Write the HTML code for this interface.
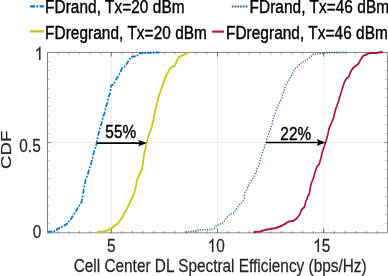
<!DOCTYPE html>
<html><head><meta charset="utf-8"><title>CDF</title>
<style>html,body{margin:0;padding:0;background:#fff;}body{width:388px;height:276px;overflow:hidden;}svg{display:block;will-change:transform;}text{font-family:"Liberation Sans",sans-serif;font-size:18.6px;fill:#000;stroke:#000;stroke-width:0.42px;}text.ax{fill:#262626;stroke:#262626;stroke-width:0.25px;}</style>
</head><body>
<svg width="388" height="276" viewBox="0 0 388 276">
<rect width="388" height="276" fill="#fff"/>
<g transform="scale(0.827,1)">
<g stroke="#e6e6e6" stroke-width="0.9" fill="none"><line x1="134.52" y1="52.50" x2="134.52" y2="232.60"/><line x1="263.00" y1="52.50" x2="263.00" y2="232.60"/><line x1="391.48" y1="52.50" x2="391.48" y2="232.60"/><line x1="57.44" y1="142.55" x2="468.56" y2="142.55"/></g>
<line x1="57.07" y1="232.70" x2="468.92" y2="232.70" stroke="#b2b2b2" stroke-width="1.35"/>
<line x1="57.07" y1="52.45" x2="468.92" y2="52.45" stroke="#404040" stroke-width="0.72"/>
<line x1="57.44" y1="52.50" x2="57.44" y2="232.60" stroke="#404040" stroke-width="0.73"/>
<line x1="468.56" y1="52.50" x2="468.56" y2="232.60" stroke="#404040" stroke-width="0.63"/>
<line x1="70.28" y1="232.90" x2="70.28" y2="231.10" stroke="#4a4a4a" stroke-width="0.73"/><line x1="70.28" y1="52.50" x2="70.28" y2="54.60" stroke="#4a4a4a" stroke-width="0.46"/><line x1="83.13" y1="232.90" x2="83.13" y2="231.10" stroke="#4a4a4a" stroke-width="0.73"/><line x1="83.13" y1="52.50" x2="83.13" y2="54.60" stroke="#4a4a4a" stroke-width="0.46"/><line x1="95.98" y1="232.90" x2="95.98" y2="231.10" stroke="#4a4a4a" stroke-width="0.73"/><line x1="95.98" y1="52.50" x2="95.98" y2="54.60" stroke="#4a4a4a" stroke-width="0.46"/><line x1="108.83" y1="232.90" x2="108.83" y2="231.10" stroke="#4a4a4a" stroke-width="0.73"/><line x1="108.83" y1="52.50" x2="108.83" y2="54.60" stroke="#4a4a4a" stroke-width="0.46"/><line x1="121.67" y1="232.90" x2="121.67" y2="231.10" stroke="#4a4a4a" stroke-width="0.73"/><line x1="121.67" y1="52.50" x2="121.67" y2="54.60" stroke="#4a4a4a" stroke-width="0.46"/><line x1="134.52" y1="232.90" x2="134.52" y2="228.50" stroke="#4a4a4a" stroke-width="1.03"/><line x1="134.52" y1="52.50" x2="134.52" y2="56.60" stroke="#4a4a4a" stroke-width="0.91"/><line x1="147.37" y1="232.90" x2="147.37" y2="231.10" stroke="#4a4a4a" stroke-width="0.73"/><line x1="147.37" y1="52.50" x2="147.37" y2="54.60" stroke="#4a4a4a" stroke-width="0.46"/><line x1="160.22" y1="232.90" x2="160.22" y2="231.10" stroke="#4a4a4a" stroke-width="0.73"/><line x1="160.22" y1="52.50" x2="160.22" y2="54.60" stroke="#4a4a4a" stroke-width="0.46"/><line x1="173.07" y1="232.90" x2="173.07" y2="231.10" stroke="#4a4a4a" stroke-width="0.73"/><line x1="173.07" y1="52.50" x2="173.07" y2="54.60" stroke="#4a4a4a" stroke-width="0.46"/><line x1="185.91" y1="232.90" x2="185.91" y2="231.10" stroke="#4a4a4a" stroke-width="0.73"/><line x1="185.91" y1="52.50" x2="185.91" y2="54.60" stroke="#4a4a4a" stroke-width="0.46"/><line x1="198.76" y1="232.90" x2="198.76" y2="231.10" stroke="#4a4a4a" stroke-width="0.73"/><line x1="198.76" y1="52.50" x2="198.76" y2="54.60" stroke="#4a4a4a" stroke-width="0.46"/><line x1="211.61" y1="232.90" x2="211.61" y2="231.10" stroke="#4a4a4a" stroke-width="0.73"/><line x1="211.61" y1="52.50" x2="211.61" y2="54.60" stroke="#4a4a4a" stroke-width="0.46"/><line x1="224.46" y1="232.90" x2="224.46" y2="231.10" stroke="#4a4a4a" stroke-width="0.73"/><line x1="224.46" y1="52.50" x2="224.46" y2="54.60" stroke="#4a4a4a" stroke-width="0.46"/><line x1="237.30" y1="232.90" x2="237.30" y2="231.10" stroke="#4a4a4a" stroke-width="0.73"/><line x1="237.30" y1="52.50" x2="237.30" y2="54.60" stroke="#4a4a4a" stroke-width="0.46"/><line x1="250.15" y1="232.90" x2="250.15" y2="231.10" stroke="#4a4a4a" stroke-width="0.73"/><line x1="250.15" y1="52.50" x2="250.15" y2="54.60" stroke="#4a4a4a" stroke-width="0.46"/><line x1="263.00" y1="232.90" x2="263.00" y2="228.50" stroke="#4a4a4a" stroke-width="1.03"/><line x1="263.00" y1="52.50" x2="263.00" y2="56.60" stroke="#4a4a4a" stroke-width="0.91"/><line x1="275.85" y1="232.90" x2="275.85" y2="231.10" stroke="#4a4a4a" stroke-width="0.73"/><line x1="275.85" y1="52.50" x2="275.85" y2="54.60" stroke="#4a4a4a" stroke-width="0.46"/><line x1="288.69" y1="232.90" x2="288.69" y2="231.10" stroke="#4a4a4a" stroke-width="0.73"/><line x1="288.69" y1="52.50" x2="288.69" y2="54.60" stroke="#4a4a4a" stroke-width="0.46"/><line x1="301.54" y1="232.90" x2="301.54" y2="231.10" stroke="#4a4a4a" stroke-width="0.73"/><line x1="301.54" y1="52.50" x2="301.54" y2="54.60" stroke="#4a4a4a" stroke-width="0.46"/><line x1="314.39" y1="232.90" x2="314.39" y2="231.10" stroke="#4a4a4a" stroke-width="0.73"/><line x1="314.39" y1="52.50" x2="314.39" y2="54.60" stroke="#4a4a4a" stroke-width="0.46"/><line x1="327.24" y1="232.90" x2="327.24" y2="231.10" stroke="#4a4a4a" stroke-width="0.73"/><line x1="327.24" y1="52.50" x2="327.24" y2="54.60" stroke="#4a4a4a" stroke-width="0.46"/><line x1="340.08" y1="232.90" x2="340.08" y2="231.10" stroke="#4a4a4a" stroke-width="0.73"/><line x1="340.08" y1="52.50" x2="340.08" y2="54.60" stroke="#4a4a4a" stroke-width="0.46"/><line x1="352.93" y1="232.90" x2="352.93" y2="231.10" stroke="#4a4a4a" stroke-width="0.73"/><line x1="352.93" y1="52.50" x2="352.93" y2="54.60" stroke="#4a4a4a" stroke-width="0.46"/><line x1="365.78" y1="232.90" x2="365.78" y2="231.10" stroke="#4a4a4a" stroke-width="0.73"/><line x1="365.78" y1="52.50" x2="365.78" y2="54.60" stroke="#4a4a4a" stroke-width="0.46"/><line x1="378.63" y1="232.90" x2="378.63" y2="231.10" stroke="#4a4a4a" stroke-width="0.73"/><line x1="378.63" y1="52.50" x2="378.63" y2="54.60" stroke="#4a4a4a" stroke-width="0.46"/><line x1="391.48" y1="232.90" x2="391.48" y2="228.50" stroke="#4a4a4a" stroke-width="1.03"/><line x1="391.48" y1="52.50" x2="391.48" y2="56.60" stroke="#4a4a4a" stroke-width="0.91"/><line x1="404.32" y1="232.90" x2="404.32" y2="231.10" stroke="#4a4a4a" stroke-width="0.73"/><line x1="404.32" y1="52.50" x2="404.32" y2="54.60" stroke="#4a4a4a" stroke-width="0.46"/><line x1="417.17" y1="232.90" x2="417.17" y2="231.10" stroke="#4a4a4a" stroke-width="0.73"/><line x1="417.17" y1="52.50" x2="417.17" y2="54.60" stroke="#4a4a4a" stroke-width="0.46"/><line x1="430.02" y1="232.90" x2="430.02" y2="231.10" stroke="#4a4a4a" stroke-width="0.73"/><line x1="430.02" y1="52.50" x2="430.02" y2="54.60" stroke="#4a4a4a" stroke-width="0.46"/><line x1="442.87" y1="232.90" x2="442.87" y2="231.10" stroke="#4a4a4a" stroke-width="0.73"/><line x1="442.87" y1="52.50" x2="442.87" y2="54.60" stroke="#4a4a4a" stroke-width="0.46"/><line x1="455.71" y1="232.90" x2="455.71" y2="231.10" stroke="#4a4a4a" stroke-width="0.73"/><line x1="455.71" y1="52.50" x2="455.71" y2="54.60" stroke="#4a4a4a" stroke-width="0.46"/><line x1="57.44" y1="223.59" x2="59.98" y2="223.59" stroke="#4a4a4a" stroke-width="0.40"/><line x1="468.56" y1="223.59" x2="466.02" y2="223.59" stroke="#4a4a4a" stroke-width="0.40"/><line x1="57.44" y1="214.59" x2="59.98" y2="214.59" stroke="#4a4a4a" stroke-width="0.40"/><line x1="468.56" y1="214.59" x2="466.02" y2="214.59" stroke="#4a4a4a" stroke-width="0.40"/><line x1="57.44" y1="205.58" x2="59.98" y2="205.58" stroke="#4a4a4a" stroke-width="0.40"/><line x1="468.56" y1="205.58" x2="466.02" y2="205.58" stroke="#4a4a4a" stroke-width="0.40"/><line x1="57.44" y1="196.58" x2="59.98" y2="196.58" stroke="#4a4a4a" stroke-width="0.40"/><line x1="468.56" y1="196.58" x2="466.02" y2="196.58" stroke="#4a4a4a" stroke-width="0.40"/><line x1="57.44" y1="187.57" x2="59.98" y2="187.57" stroke="#4a4a4a" stroke-width="0.40"/><line x1="468.56" y1="187.57" x2="466.02" y2="187.57" stroke="#4a4a4a" stroke-width="0.40"/><line x1="57.44" y1="178.57" x2="59.98" y2="178.57" stroke="#4a4a4a" stroke-width="0.40"/><line x1="468.56" y1="178.57" x2="466.02" y2="178.57" stroke="#4a4a4a" stroke-width="0.40"/><line x1="57.44" y1="169.56" x2="59.98" y2="169.56" stroke="#4a4a4a" stroke-width="0.40"/><line x1="468.56" y1="169.56" x2="466.02" y2="169.56" stroke="#4a4a4a" stroke-width="0.40"/><line x1="57.44" y1="160.56" x2="59.98" y2="160.56" stroke="#4a4a4a" stroke-width="0.40"/><line x1="468.56" y1="160.56" x2="466.02" y2="160.56" stroke="#4a4a4a" stroke-width="0.40"/><line x1="57.44" y1="151.56" x2="59.98" y2="151.56" stroke="#4a4a4a" stroke-width="0.40"/><line x1="468.56" y1="151.56" x2="466.02" y2="151.56" stroke="#4a4a4a" stroke-width="0.40"/><line x1="57.44" y1="142.55" x2="61.79" y2="142.55" stroke="#4a4a4a" stroke-width="0.70"/><line x1="468.56" y1="142.55" x2="464.21" y2="142.55" stroke="#4a4a4a" stroke-width="0.70"/><line x1="57.44" y1="133.54" x2="59.98" y2="133.54" stroke="#4a4a4a" stroke-width="0.40"/><line x1="468.56" y1="133.54" x2="466.02" y2="133.54" stroke="#4a4a4a" stroke-width="0.40"/><line x1="57.44" y1="124.54" x2="59.98" y2="124.54" stroke="#4a4a4a" stroke-width="0.40"/><line x1="468.56" y1="124.54" x2="466.02" y2="124.54" stroke="#4a4a4a" stroke-width="0.40"/><line x1="57.44" y1="115.53" x2="59.98" y2="115.53" stroke="#4a4a4a" stroke-width="0.40"/><line x1="468.56" y1="115.53" x2="466.02" y2="115.53" stroke="#4a4a4a" stroke-width="0.40"/><line x1="57.44" y1="106.53" x2="59.98" y2="106.53" stroke="#4a4a4a" stroke-width="0.40"/><line x1="468.56" y1="106.53" x2="466.02" y2="106.53" stroke="#4a4a4a" stroke-width="0.40"/><line x1="57.44" y1="97.53" x2="59.98" y2="97.53" stroke="#4a4a4a" stroke-width="0.40"/><line x1="468.56" y1="97.53" x2="466.02" y2="97.53" stroke="#4a4a4a" stroke-width="0.40"/><line x1="57.44" y1="88.52" x2="59.98" y2="88.52" stroke="#4a4a4a" stroke-width="0.40"/><line x1="468.56" y1="88.52" x2="466.02" y2="88.52" stroke="#4a4a4a" stroke-width="0.40"/><line x1="57.44" y1="79.51" x2="59.98" y2="79.51" stroke="#4a4a4a" stroke-width="0.40"/><line x1="468.56" y1="79.51" x2="466.02" y2="79.51" stroke="#4a4a4a" stroke-width="0.40"/><line x1="57.44" y1="70.51" x2="59.98" y2="70.51" stroke="#4a4a4a" stroke-width="0.40"/><line x1="468.56" y1="70.51" x2="466.02" y2="70.51" stroke="#4a4a4a" stroke-width="0.40"/><line x1="57.44" y1="61.50" x2="59.98" y2="61.50" stroke="#4a4a4a" stroke-width="0.40"/><line x1="468.56" y1="61.50" x2="466.02" y2="61.50" stroke="#4a4a4a" stroke-width="0.40"/>
<path d="M57.92 232.00 L62.24 231.47 L66.63 230.90 L70.13 228.60 L73.10 227.59 L75.45 226.60 L78.06 225.33 L80.65 224.00 L82.66 221.80 L85.13 219.60 L86.97 217.54 L88.63 215.30 L90.09 213.04 L92.14 210.90 L93.60 208.49 L95.65 205.90 L98.55 202.20 L99.52 198.00 L100.18 194.86 L100.91 192.14 L101.09 189.00 L102.23 185.38 L103.14 181.70 L104.06 178.65 L105.50 175.77 L106.65 173.00 L107.31 170.52 L108.08 168.19 L109.31 165.80 L110.28 163.40 L111.02 160.78 L111.86 157.99 L112.64 155.27 L113.42 152.50 L114.27 149.91 L115.54 147.60 L116.30 144.99 L116.93 142.40 L117.68 138.92 L118.55 135.47 L119.59 132.20 L120.56 129.10 L121.63 126.55 L122.56 124.02 L123.52 121.63 L124.06 119.00 L124.58 116.36 L126.11 113.89 L127.04 111.32 L127.57 108.80 L128.27 105.94 L129.79 102.93 L130.59 100.10 L131.34 96.68 L133.03 93.44 L133.74 90.00 L133.82 87.67 L134.46 85.50 L137.97 84.10 L139.01 81.42 L140.63 79.00 L142.60 76.70 L144.14 74.60 L145.93 71.33 L147.64 68.10 L152.00 65.90 L153.52 63.47 L155.50 60.90 L156.99 58.99 L159.01 57.00 L161.81 56.53 L165.18 56.10 L168.68 53.20 L172.25 52.98 L176.58 52.99 L179.88 52.87 L183.80 52.60 L188.12 52.57 L192.87 52.60" fill="none" stroke="#0F74C4" stroke-width="2.0" stroke-dasharray="5.3 1.5 1.9 1.5" stroke-linejoin="round"/>
<path d="M117.53 232.20 L121.80 231.74 L125.39 231.50 L130.59 230.20 L132.91 229.05 L135.91 227.60 L139.42 225.10 L142.93 223.30 L144.87 220.64 L147.28 218.20 L149.14 215.25 L150.79 212.40 L152.82 209.77 L154.29 207.30 L156.38 204.00 L157.80 200.80 L159.01 199.10 L160.84 195.98 L162.52 192.60 L163.31 190.00 L164.00 187.01 L164.79 184.45 L165.18 181.70 L166.37 178.71 L167.84 175.90 L169.36 173.77 L170.37 171.60 L171.42 169.25 L172.16 166.75 L172.55 164.30 L173.30 161.03 L173.59 157.84 L174.23 154.48 L174.97 151.10 L176.07 148.48 L176.24 145.86 L177.27 143.10 L178.36 140.28 L178.87 137.66 L179.83 135.05 L181.14 132.20 L182.29 129.66 L183.43 127.10 L184.26 123.78 L185.51 120.31 L186.09 117.00 L186.89 113.62 L187.72 110.23 L188.75 106.80 L189.67 103.88 L190.65 101.01 L191.41 98.10 L192.28 95.28 L193.65 92.15 L194.92 89.20 L196.00 86.78 L197.22 84.10 L198.45 81.55 L199.03 79.00 L200.23 76.68 L201.57 74.60 L203.19 72.35 L204.23 70.30 L207.74 67.10 L211.25 65.90 L213.06 62.30 L214.54 59.70 L215.96 57.20 L218.74 56.11 L221.77 55.10 L224.62 53.66 L227.93 52.50" fill="none" stroke="#C6C616" stroke-width="2.1" stroke-linejoin="round"/>
<path d="M224.67 232.00 L228.79 231.67 L233.04 231.20 L236.88 230.90 L239.54 230.10 L242.95 230.07 L246.43 229.71 L249.54 229.69 L252.72 229.50 L255.81 229.19 L258.89 228.60 L262.39 225.40 L265.92 224.08 L269.41 222.80 L271.91 220.54 L273.76 218.20 L275.79 216.09 L278.11 214.10 L282.47 213.10 L285.37 210.20 L287.78 207.09 L290.21 204.25 L292.22 202.60 L294.07 200.80 L294.92 198.40 L295.47 195.60 L296.13 192.60 L298.50 189.37 L300.24 186.10 L301.64 183.79 L302.78 181.70 L304.21 180.04 L306.29 178.10 L307.46 175.46 L308.95 173.00 L310.38 170.57 L311.25 168.00 L313.30 164.50 L314.08 161.41 L315.21 158.37 L316.44 155.40 L317.42 152.16 L319.11 148.90 L320.29 145.47 L321.77 142.10 L322.87 138.48 L324.43 135.10 L325.36 132.31 L326.96 129.30 L328.05 126.60 L329.04 124.15 L329.39 121.56 L330.47 119.20 L331.47 115.84 L333.01 112.60 L334.26 109.28 L336.15 106.10 L337.45 103.46 L339.18 101.00 L340.44 98.09 L341.48 95.20 L342.97 91.66 L344.50 88.20 L345.71 84.80 L347.91 81.99 L350.06 79.00 L351.67 76.32 L353.57 73.90 L355.31 71.31 L357.07 68.80 L359.45 66.88 L361.43 65.20 L364.93 62.30 L369.29 60.90 L371.79 59.30 L373.76 58.00 L376.15 56.28 L378.48 54.60 L382.47 53.90 L386.26 53.67 L390.33 53.20 L393.78 52.90 L396.93 52.83 L400.24 52.60 L403.77 52.48 L408.05 52.67 L411.82 52.58 L415.72 52.53 L419.59 52.60" fill="none" stroke="#3E62AE" stroke-width="1.6" stroke-dasharray="1.35 1.5" stroke-linejoin="round"/>
<path d="M306.65 232.20 L310.51 231.86 L314.51 231.50 L317.43 230.70 L319.83 230.10 L323.14 229.46 L326.84 229.10 L329.65 228.55 L333.01 228.30 L335.78 227.25 L339.06 226.20 L342.07 225.16 L344.38 224.00 L346.89 222.67 L349.58 221.40 L354.90 220.80 L359.25 218.20 L361.14 215.95 L362.76 213.80 L363.78 211.40 L365.42 208.80 L367.96 207.30 L369.01 203.93 L369.89 200.80 L371.34 199.10 L372.04 196.58 L373.69 194.18 L374.37 191.90 L375.18 189.14 L375.48 186.07 L376.54 183.20 L378.04 180.08 L379.56 176.70 L380.51 173.46 L381.72 170.23 L383.07 167.20 L386.09 163.80 L387.42 160.00 L388.44 157.13 L389.15 153.93 L390.08 151.10 L391.41 148.27 L392.53 145.25 L393.59 142.40 L394.84 139.54 L395.67 136.61 L396.61 133.70 L397.33 130.39 L398.43 127.10 L400.09 124.52 L401.22 121.93 L402.78 119.20 L403.91 116.40 L404.31 113.78 L405.44 111.20 L405.98 108.84 L407.32 106.35 L408.10 103.90 L409.63 100.96 L410.22 97.98 L411.61 95.20 L412.52 92.25 L413.66 89.10 L415.07 85.72 L416.32 82.60 L417.61 80.31 L418.98 78.30 L421.64 76.80 L422.88 74.29 L423.94 72.00 L425.16 70.09 L426.84 68.10 L430.35 65.70 L433.01 64.20 L434.58 62.19 L435.67 60.10 L437.27 57.99 L439.18 55.80 L442.68 54.80 L446.19 53.20 L449.96 52.90 L454.05 52.90 L458.24 52.56 L462.76 52.10" fill="none" stroke="#A5183A" stroke-width="2.0" stroke-linejoin="round"/>
<line x1="116.93" y1="143.10" x2="170.18" y2="143.10" stroke="#000" stroke-width="1.6"/><path d="M177.63 143.10 L166.99 139.70 L169.12 143.10 L166.99 146.50 Z" fill="#000"/>
<line x1="321.77" y1="142.50" x2="386.14" y2="142.50" stroke="#000" stroke-width="1.6"/><path d="M393.59 142.50 L382.95 139.10 L385.08 142.50 L382.95 145.90 Z" fill="#000"/>
<text x="146.01" y="137.80" text-anchor="middle">55%</text>
<text x="357.62" y="140.20" text-anchor="middle">22%</text>
<path d="M763 0H583V1147Q518 1085 412 1023Q307 961 223 930V1104Q374 1175 487 1276Q600 1377 647 1472H763Z" transform="translate(41.96,60.00) scale(0.009082,-0.009082)" fill="#262626" stroke="#262626" stroke-width="27.5"/>
<text class="ax" x="49.21" y="151.70" text-anchor="end">0.5</text>
<text class="ax" x="49.94" y="238.00" text-anchor="end">0</text>
<text class="ax" x="134.70" y="252.00" text-anchor="middle">5</text>
<path d="M763 0H583V1147Q518 1085 412 1023Q307 961 223 930V1104Q374 1175 487 1276Q600 1377 647 1472H763Z" transform="translate(251.03,252.00) scale(0.009082,-0.009082)" fill="#262626" stroke="#262626" stroke-width="27.5"/>
<text class="ax" x="261.37" y="252.00">0</text>
<path d="M763 0H583V1147Q518 1085 412 1023Q307 961 223 930V1104Q374 1175 487 1276Q600 1377 647 1472H763Z" transform="translate(378.72,252.00) scale(0.009082,-0.009082)" fill="#262626" stroke="#262626" stroke-width="27.5"/>
<text class="ax" x="389.06" y="252.00">5</text>
<text class="ax" x="89.12" y="272.00">Cell Center DL Spectral Efficiency (bps/Hz)</text>
<text class="ax" transform="translate(12.94,149.80) rotate(-90)" text-anchor="middle">CDF</text>
<line x1="36.52" y1="6.45" x2="53.08" y2="6.45" stroke="#0F72C2" stroke-width="2.2" stroke-dasharray="5.75 1.7 2.2 1.8"/>
<text x="54.53" y="13.1" letter-spacing="0.07">FDrand, Tx=20 dBm</text>
<line x1="36.15" y1="31.4" x2="53.08" y2="31.4" stroke="#C2C014" stroke-width="2.2"/>
<text x="54.53" y="38.7" letter-spacing="0.07">FDregrand, Tx=20 dBm</text>
<line x1="280.17" y1="6.5" x2="299.40" y2="6.5" stroke="#4462A6" stroke-width="2.2" stroke-dasharray="2.2 1.16"/>
<text x="301.81" y="13.1" letter-spacing="0.07">FDrand, Tx=46 dBm</text>
<line x1="256.59" y1="31.6" x2="270.86" y2="31.6" stroke="#CC0F3C" stroke-width="2.2"/>
<text x="273.28" y="38.7" letter-spacing="0.07">FDregrand, Tx=46 dBm</text>
</g></svg></body></html>
